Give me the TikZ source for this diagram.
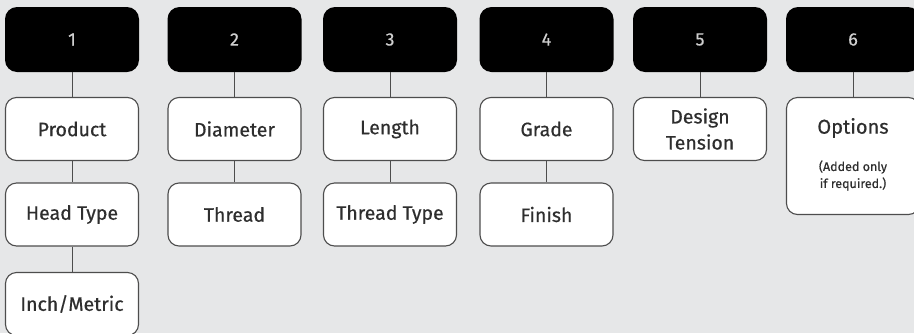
\documentclass[tikz,border=0pt]{standalone}
\usepackage{fontspec}
\setmainfont{Fira Sans}
\newfontfamily\boxfont{Fira Sans}[FakeBold=0.5]
\usetikzlibrary{positioning}
\definecolor{bgray}{HTML}{E6E7E8}
\definecolor{lgray}{HTML}{4D4D4D}
\definecolor{tgray}{HTML}{2E2E2E}
\definecolor{ngray}{HTML}{CFCFCF}
\tikzset{
  numbox/.style={ fill=black, rounded corners=12pt, minimum width=134pt, minimum height=65pt,
    text=ngray, font=\boxfont\fontsize{18}{22}\selectfont, inner sep=0pt }
}
\tikzset{
  fieldbox/.style={ draw=lgray, line width=1.1pt, fill=white, rounded corners=11pt,
    minimum width=133pt, minimum height=63pt, text=tgray, align=center,
    font=\boxfont\fontsize{19.5}{26}\selectfont, inner sep=0pt }
}
\tikzset{
  link/.style={ draw=lgray, line width=1pt }
}

\begin{document}
\begin{tikzpicture}[x=1pt,y=-1pt]
      \path[clip] (0,0) rectangle (914,333);
      \fill[bgray] (0,0) rectangle (914,333);

      % step numbers
      \node[numbox] (N1) at (72, 39.5) {1};
      \node[numbox] (N2) at (234.5, 39.5) {2};
      \node[numbox] (N3) at (390, 39.5) {3};
      \node[numbox] (N4) at (546.5, 39.5) {4};
      \node[numbox] (N5) at (700, 39.5) {5};
      \node[numbox] (N6) at (853, 39.5) {6};

      % column 1
      \node[fieldbox] (P1) at (72, 129) {Product};
      \node[fieldbox] (H1) at (72, 214.5) {Head Type};
      \node[fieldbox] (M1) at (72, 304) {Inch/Metric};
      % column 2
      \node[fieldbox] (D2) at (234.5, 129) {Diameter};
      \node[fieldbox] (T2) at (234.5, 214.5) {Thread};
      % column 3
      \node[fieldbox] (L3) at (390, 129) {Length};
      \node[fieldbox] (T3) at (390, 214.5) {Thread Type};
      % column 4
      \node[fieldbox] (G4) at (546.5, 129) {Grade};
      \node[fieldbox] (F4) at (546.5, 214.5) {Finish};
      % column 5
      \node[fieldbox] (D5) at (700, 129) {Design\\Tension};
      % column 6
      \node[fieldbox, minimum height=117pt] (O6) at (853, 156) {};
      \node[text=tgray, font=\boxfont\fontsize{20}{24}\selectfont] (O6t) at (853, 128) {Options};
      \node[text=tgray, align=center, font=\boxfont\fontsize{12.5}{17}\selectfont] (O6n) at (853, 175.5) {(Added only\\if required.)};

      \draw[link] (N1) -- (P1);
      \draw[link] (P1) -- (H1);
      \draw[link] (H1) -- (M1);
      \draw[link] (N2) -- (D2);
      \draw[link] (D2) -- (T2);
      \draw[link] (N3) -- (L3);
      \draw[link] (L3) -- (T3);
      \draw[link] (N4) -- (G4);
      \draw[link] (G4) -- (F4);
      \draw[link] (N5) -- (D5);
      \draw[link] (N6) -- (O6);
    \end{tikzpicture}
\end{document}
